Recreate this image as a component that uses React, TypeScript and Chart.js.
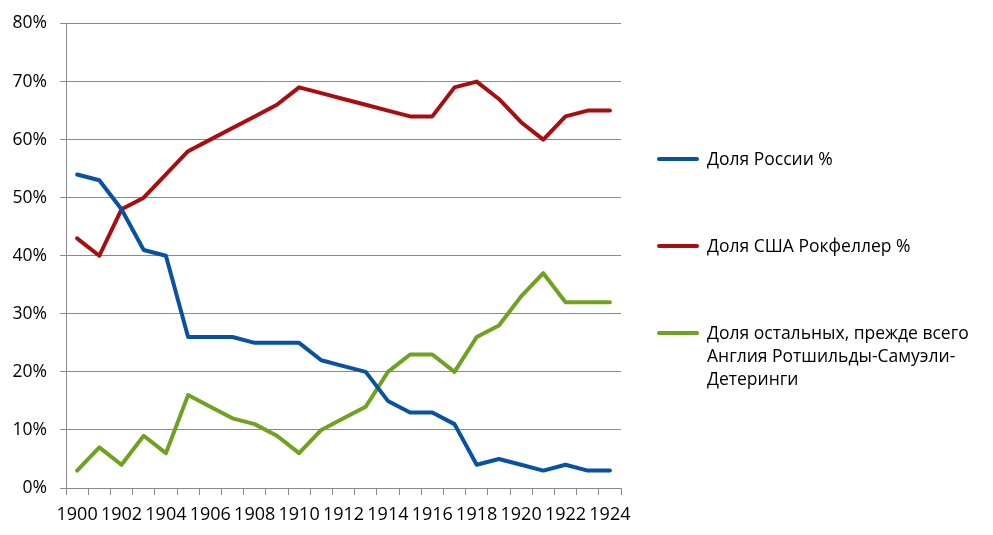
import React, { useEffect, useRef } from 'react';
import { Chart, registerables } from 'chart.js';

Chart.register(...registerables);

const years = [
  '1900', '1901', '1902', '1903', '1904', '1905', '1906', '1907', '1908', '1909',
  '1910', '1911', '1912', '1913', '1914', '1915', '1916', '1917', '1918', '1919',
  '1920', '1921', '1922', '1923', '1924',
];

const russia = [54, 53, 48, 41, 40, 26, 26, 26, 25, 25, 25, 22, 21, 20, 15, 13, 13, 11, 4, 5, 4, 3, 4, 3, 3];
const usa = [43, 40, 48, 50, 54, 58, 60, 62, 64, 66, 69, 68, 67, 66, 65, 64, 64, 69, 70, 67, 63, 60, 64, 65, 65];
const others = [3, 7, 4, 9, 6, 16, 14, 12, 11, 9, 6, 10, 12, 14, 20, 23, 23, 20, 26, 28, 33, 37, 32, 32, 32];

const seriesNames = ['Доля России %', 'Доля США Рокфеллер %', 'Доля остальных, прежде всего Англия Ротшильды-Самуэли-Детеринги'];
const legendLines = [
  ['Доля России %'],
  ['Доля США Рокфеллер %'],
  ['Доля остальных, прежде всего', 'Англия Ротшильды-Самуэли-', 'Детеринги'],
];

const colors = ['#0752A3', '#A80E0E', '#6FA31F'];
const gridColor = '#8a8a8a';
const fontFamily = '"Open Sans", "DejaVu Sans", sans-serif';

export default function App() {
  const ref = useRef<HTMLCanvasElement>(null);

  useEffect(() => {
    document.body.style.margin = '0';
    const chart = new Chart(ref.current as HTMLCanvasElement, {
      type: 'line',
      data: {
        labels: years,
        datasets: [russia, usa, others].map((d, i) => ({
          label: seriesNames[i],
          data: d,
          borderColor: colors[i],
          backgroundColor: colors[i],
          borderWidth: 4,
          pointRadius: 0,
          tension: 0,
          borderJoinStyle: 'round' as const,
          borderCapStyle: 'round' as const,
        })),
      },
      options: {
        responsive: false,
        animation: false,
        layout: { padding: { top: 22, right: 372, bottom: 0, left: 0 } },
        plugins: { legend: { display: false }, tooltip: { enabled: false } },
        scales: {
          x: {
            offset: true,
            grid: { offset: true, drawOnChartArea: false, drawTicks: true, tickLength: 7, color: gridColor },
            border: { color: gridColor },
            ticks: {
              autoSkip: false,
              maxRotation: 0,
              minRotation: 0,
              padding: 9,
              color: '#000',
              font: { family: fontFamily, size: 18 },
              callback: (_v: any, i: number) => (i % 2 === 0 ? years[i] : ''),
            },
            afterFit: (s: any) => { s.height = 47; },
          },
          y: {
            min: 0,
            max: 80,
            ticks: {
              stepSize: 10,
              padding: 13,
              color: '#000',
              font: { family: fontFamily, size: 17.5 },
              callback: (v: any) => v + '%',
            },
            grid: { color: gridColor, tickLength: 6 },
            border: { color: gridColor },
            afterFit: (s: any) => { s.width = 66; },
          },
        },
      },
    });
    return () => chart.destroy();
  }, []);

  const tops = [158, 245, 332];

  return (
    <div style={{ position: 'relative', width: 993, height: 535, background: '#fff', overflow: 'hidden' }}>
      <canvas ref={ref} width={993} height={535} style={{ display: 'block', position: 'absolute', left: 0, top: 0 }} />
      {legendLines.map((lines, i) => (
        <div
          key={i}
          style={{
            position: 'absolute',
            left: 657,
            top: tops[i] - 11.5,
            display: 'flex',
            alignItems: 'flex-start',
            fontFamily,
            fontSize: 17.5,
            lineHeight: '23px',
            color: '#000',
            whiteSpace: 'nowrap',
          }}
        >
          <div style={{ width: 42, height: 4, background: colors[i], marginTop: 10, borderRadius: 2 }} />
          <div style={{ marginLeft: 8 }}>
            {lines.map((t, j) => (
              <div key={j}>{t}</div>
            ))}
          </div>
        </div>
      ))}
    </div>
  );
}
